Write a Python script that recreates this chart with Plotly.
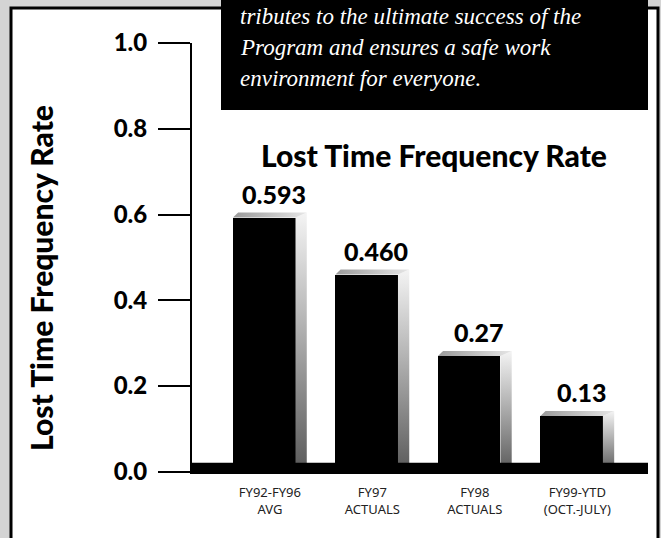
import plotly.graph_objects as go

# ---- data ----
categories = ["FY92-FY96<br>AVG", "FY97<br>ACTUALS", "FY98<br>ACTUALS", "FY99-YTD<br>(OCT.-JULY)"]
values = [0.593, 0.460, 0.27, 0.13]
value_labels = ["0.593", "0.460", "0.27", "0.13"]
y_ticks = [0.0, 0.2, 0.4, 0.6, 0.8, 1.0]
y_tick_labels = ["0.0", "0.2", "0.4", "0.6", "0.8", "1.0"]
title_text = "Lost Time Frequency Rate"
axis_title = "Lost Time Frequency Rate"
note_lines = [
    "tributes to the ultimate success of the",
    "Program and ensures a safe work",
    "environment for everyone.",
]

W, H = 661, 538
L, R, T, B = 192, 13, 43, 64
PW, PH = W - L - R, H - T - B
YR = [-0.005, 1.0]
XR = [-0.76, 3.69]

def px(x):  # pixel x -> paper
    return (x - L) / PW

def py(y):  # pixel y (from top) -> paper
    return (H - B - y) / PH

BOLD = "Lato"
SERIF = "Liberation Serif"

xs = list(range(len(values)))
fig = go.Figure()

# front faces
fig.add_trace(go.Bar(
    x=xs, y=values, width=0.61, offset=-0.36,
    marker=dict(color="black", line=dict(width=0)),
    hoverinfo="skip", showlegend=False,
))

# side faces (gradient) and top faces
for i, v in zip(xs, values):
    fig.add_trace(go.Scatter(
        x=[i + 0.25, i + 0.36, i + 0.36, i + 0.25, i + 0.25],
        y=[0.0, 0.0, v + 0.012, v, 0.0],
        mode="lines", line=dict(width=0), fill="toself",
        fillgradient=dict(type="vertical",
                          colorscale=[[0, "#5a5a5a"], [0.6, "#b8b8b8"], [1, "#f4f4f4"]]),
        hoverinfo="skip", showlegend=False,
    ))
    fig.add_trace(go.Scatter(
        x=[i - 0.36, i - 0.31, i + 0.36, i + 0.25, i - 0.36],
        y=[v, v + 0.012, v + 0.012, v, v],
        mode="lines", line=dict(width=0), fill="toself",
        fillgradient=dict(type="horizontal",
                          colorscale=[[0, "#9a9a9a"], [1, "#e6e6e6"]]),
        hoverinfo="skip", showlegend=False,
    ))

# value labels
for i, (v, t) in enumerate(zip(values, value_labels)):
    fig.add_annotation(x=i + 0.04, y=v, text=t, showarrow=False,
                       xanchor="center", yanchor="bottom", yshift=7,
                       font=dict(family=BOLD, size=25, color="black", weight=900))

shapes = [
    # white framed panel
    dict(type="rect", xref="paper", yref="paper",
         x0=px(11), x1=px(658), y0=py(548), y1=py(8),
         fillcolor="white", line=dict(color="black", width=3), layer="below"),
    # floor band
    dict(type="rect", xref="paper", yref="y", x0=0, x1=1, y0=-0.005, y1=0.021,
         fillcolor="black", line=dict(width=0), layer="above"),
    # black text box at top
    dict(type="rect", xref="paper", yref="paper",
         x0=px(221), x1=px(648), y0=py(110), y1=py(-5),
         fillcolor="black", line=dict(width=0), layer="above"),
]

annotations = [
    dict(xref="paper", yref="paper", x=px(434), y=py(155), text=title_text,
         showarrow=False, xanchor="center", yanchor="middle",
         font=dict(family=BOLD, size=30, color="black", weight=900)),
    dict(xref="paper", yref="paper", x=px(41), y=py(278), text=axis_title,
         showarrow=False, textangle=-90, xanchor="center", yanchor="middle",
         font=dict(family=BOLD, size=30, color="black", weight=900)),
]
for k, line in enumerate(note_lines):
    annotations.append(dict(
        xref="paper", yref="paper", x=px(238), y=py(25 + 31 * k), text=line,
        showarrow=False, xanchor="left", yanchor="bottom", yshift=-6,
        font=dict(family=SERIF, size=23, color="white", style="italic")))

for a in annotations:
    fig.add_annotation(**a)

fig.update_layout(
    width=W, height=H,
    margin=dict(l=L, r=R, t=T, b=B, pad=0),
    paper_bgcolor="#d4d4d4", plot_bgcolor="rgba(0,0,0,0)",
    shapes=shapes, showlegend=False, bargap=0,
    xaxis=dict(range=XR, tickvals=xs, ticktext=categories, showgrid=False,
               zeroline=False, showline=False, ticks="", ticklabelstandoff=9,
               tickfont=dict(family="Noto Sans", size=13, color="#222"),
               fixedrange=True),
    yaxis=dict(range=YR, tickvals=y_ticks, ticktext=y_tick_labels, showgrid=False,
               zeroline=False, showline=True, linecolor="black", linewidth=2,
               ticks="outside", ticklen=32, tickwidth=2, tickcolor="black",
               ticklabelstandoff=6,
               tickfont=dict(family=BOLD, size=24, color="black", weight=900),
               fixedrange=True),
)

fig.write_html("out.html")
